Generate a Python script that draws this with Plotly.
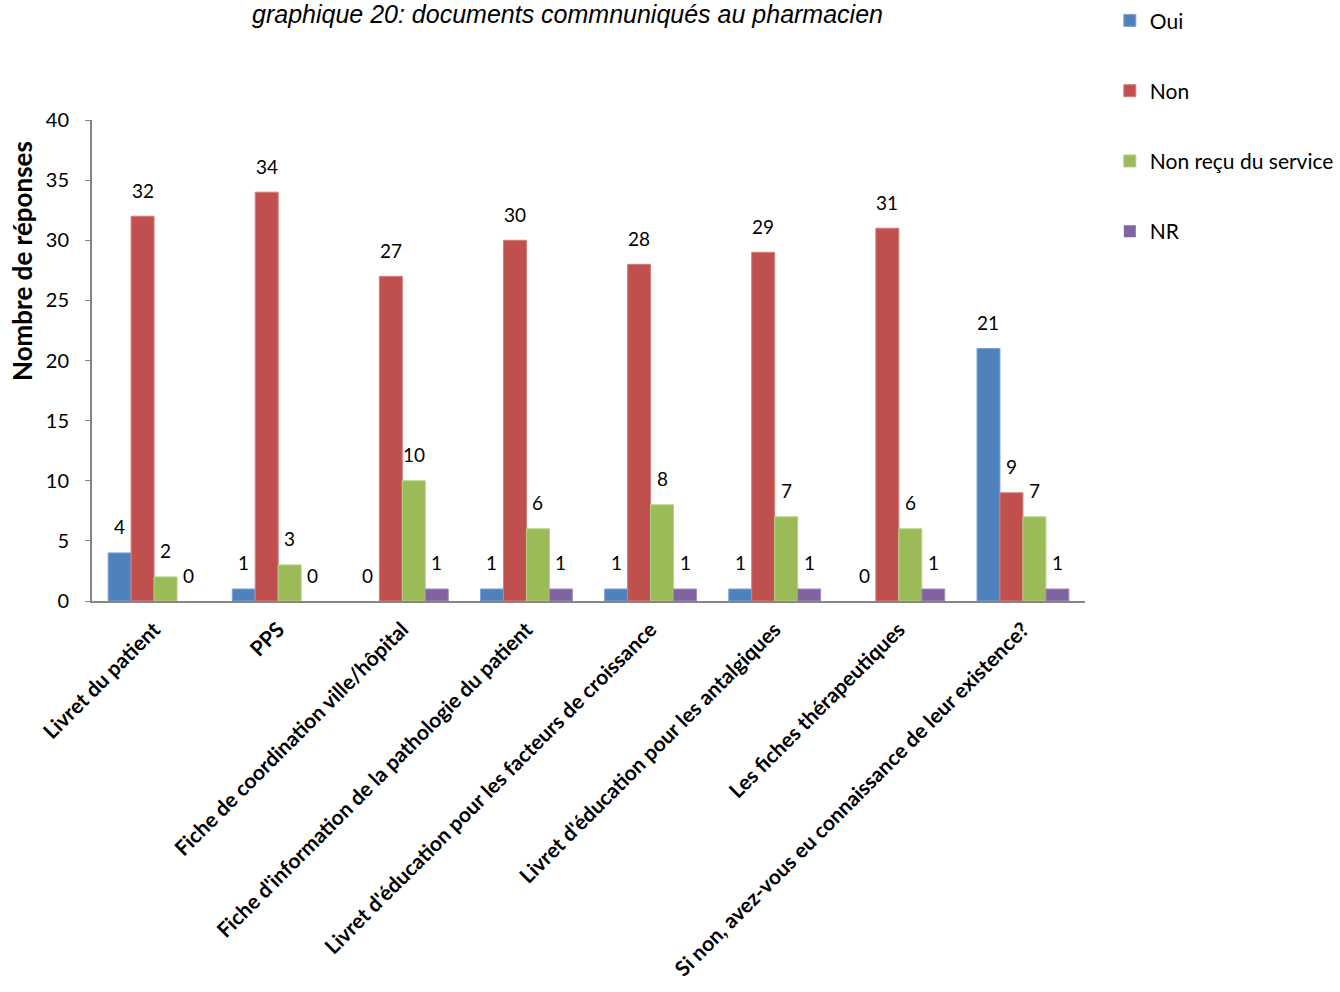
import plotly.graph_objects as go

categories = [
    "Livret du patient",
    "PPS",
    "Fiche de coordination ville/hôpital",
    "Fiche d'information de la pathologie du patient",
    "Livret d'éducation pour les facteurs de croissance",
    "Livret d'éducation pour les antalgiques",
    "Les fiches thérapeutiques",
    "Si non, avez-vous eu connaissance de leur existence?",
]
oui = [4, 1, 0, 1, 1, 1, 0, 21]
non = [32, 34, 27, 30, 28, 29, 31, 9]
non_recu = [2, 3, 10, 6, 8, 7, 6, 7]
nr = [0, 0, 1, 1, 1, 1, 1, 1]

series = [
    ("Oui", oui, "#4F81BD", "#7FA3CF"),
    ("Non", non, "#C0504D", "#D07F7D"),
    ("Non reçu du service", non_recu, "#9BBB59", "#B7CF85"),
    ("NR", nr, "#8064A2", "#A28DBB"),
]

FONT = "Lato, 'Open Sans', sans-serif"
BARGAP = 0.26
PLOT_W = 993
BAR_PX = PLOT_W / len(categories) * (1 - BARGAP) / len(series)

fig = go.Figure()
annotations = []
for k, (name, vals, color, edge) in enumerate(series):
    fig.add_trace(go.Bar(
        name=name,
        x=categories,
        y=vals,
        marker=dict(color=color,
                    line=dict(color=edge, width=[0 if v == 0 else 1 for v in vals])),
        legendgroup=f"g{k}",
        hoverinfo="skip",
    ))
    # value labels above each bar
    for cat, v in zip(categories, vals):
        annotations.append(dict(
            text=str(v), x=cat, y=v, xref="x", yref="y",
            xshift=(k - 1.5) * BAR_PX, yshift=26,
            xanchor="center", yanchor="middle", showarrow=False,
            font=dict(family=FONT, size=19, color="#000000"),
        ))

annotations += [
    dict(
        text="graphique 20: documents commnuniqués au pharmacien",
        xref="paper", yref="paper",
        x=(567 - 92) / PLOT_W, y=1 + (120 - 14) / 481,
        xanchor="center", yanchor="middle",
        showarrow=False,
        font=dict(family="'Liberation Sans', Arial, sans-serif", size=25,
                  color="#000000", style="italic"),
    ),
    dict(
        text="<b>Nombre de réponses</b>",
        xref="paper", yref="paper",
        x=(22 - 92) / PLOT_W, y=1 - (261 - 120) / 481,
        xanchor="center", yanchor="middle",
        textangle=-90,
        showarrow=False,
        font=dict(family=FONT, size=26, color="#000000"),
    ),
]

fig.update_layout(
    width=1340,
    height=992,
    margin=dict(l=92, r=255, t=120, b=391, autoexpand=False),
    paper_bgcolor="white",
    plot_bgcolor="white",
    barmode="group",
    bargap=BARGAP,
    bargroupgap=0,
    font=dict(family=FONT, color="#000000"),
    showlegend=True,
    legend=dict(
        x=1.025, y=1.249, xanchor="left", yanchor="top",
        font=dict(family=FONT, size=21, color="#000000"),
        traceorder="grouped",
        tracegroupgap=40,
        itemwidth=30,
        bgcolor="rgba(0,0,0,0)",
    ),
    xaxis=dict(
        tickangle=-45,
        tickfont=dict(family=FONT, size=21, color="#000000", weight="bold"),
        showline=True, linecolor="#868686", linewidth=2,
        ticks="", showgrid=False,
        ticklabelstandoff=6,
    ),
    yaxis=dict(
        range=[0, 40],
        dtick=5,
        tickfont=dict(family=FONT, size=20, color="#000000"),
        showline=True, linecolor="#868686", linewidth=2,
        ticks="outside", ticklen=5, tickcolor="#868686",
        ticklabelstandoff=12,
        showgrid=False, zeroline=False,
    ),
    annotations=annotations,
)

fig.write_html("out.html")
